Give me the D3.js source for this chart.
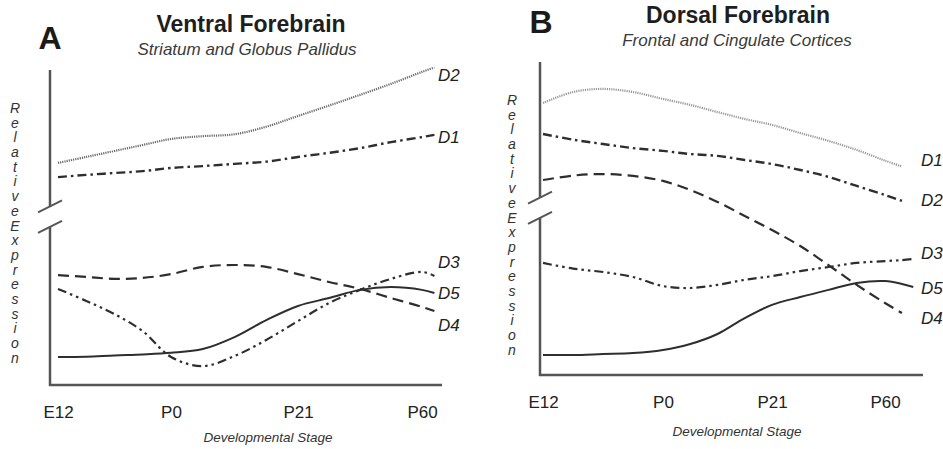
<!DOCTYPE html>
<html>
<head>
<meta charset="utf-8">
<script src="https://cdnjs.cloudflare.com/ajax/libs/d3/7.8.5/d3.min.js"></script>
<style>
  body { margin: 0; background: #fff; }
  svg { display: block; }
  text { font-family: "Liberation Sans", Arial, Helvetica, sans-serif; }
</style>
</head>
<body>
<svg id="chart" width="943" height="449"></svg>
<script>
// developmental stages on the x axis (index 0..3)
var stages = ['E12', 'P0', 'P21', 'P60'];

// sample positions along the stage axis
var gridA = [0, 0.25, 0.5, 0.75, 1, 1.25, 1.5, 1.75, 2, 2.25, 2.5, 2.75, 3, 3.1];
var gridB = [0, 0.25, 0.5, 0.75, 1, 1.25, 1.5, 1.75, 2, 2.25, 2.5, 2.75, 3, 3.15, 3.25];

// relative expression (0-100, axis broken between ~50 and ~57)
// A: ventral forebrain
var ventD2 = [70.5, 72.4, 74.3, 76.2, 78.1, 79.0, 79.6, 82.0, 85.4, 88.7, 92.1, 95.6, 99.4, 100.8];
var ventD1 = [66.0, 66.7, 67.3, 67.9, 68.9, 69.5, 70.2, 70.9, 72.4, 73.7, 75.2, 77.1, 78.7, 79.4];
var ventD3 = [30.5, 26.7, 22.5, 17.1, 8.9, 6.0, 9.2, 14.3, 20.3, 26.0, 30.2, 33.7, 35.9, 34.6];
var ventD4 = [34.9, 34.3, 33.7, 34.0, 35.2, 37.5, 38.1, 37.5, 35.2, 32.7, 30.5, 27.6, 24.8, 23.5];
var ventD5 = [8.9, 9.0, 9.4, 9.7, 10.2, 11.4, 15.2, 20.6, 25.1, 27.6, 30.2, 31.1, 30.2, 29.2];

// B: dorsal forebrain
var dorsD1 = [86.9, 90.4, 91.4, 90.4, 88.2, 86.3, 84.0, 81.8, 79.9, 77.3, 74.8, 71.9, 68.5, 66.6, null];
var dorsD2 = [77.0, 75.2, 73.8, 72.5, 71.6, 70.6, 70.0, 68.7, 67.4, 65.5, 63.3, 60.4, 57.5, 55.6, null];
var dorsD3 = [35.8, 34.0, 32.9, 31.3, 28.4, 27.8, 28.8, 30.4, 31.6, 33.2, 34.5, 35.8, 36.4, 36.7, 37.1];
var dorsD4 = [62.3, 63.7, 64.2, 63.6, 62.0, 59.1, 55.3, 50.8, 46.3, 41.2, 35.1, 28.8, 23.0, 19.8, null];
var dorsD5 = [6.4, 6.4, 6.7, 7.0, 8.0, 9.9, 13.1, 18.2, 22.4, 24.9, 27.2, 29.4, 30.0, 29.1, 28.1];

// where the y axis is broken
var yBreak = [50.2, 56.7];

// label heights (same units as values)
var ventLabels = [['D2', 98.4], ['D1', 78.7], ['D3', 39.0], ['D5', 29.2], ['D4', 19.0]];
var dorsLabels = [['D1', 68.7], ['D2', 55.9], ['D3', 39.0], ['D5', 27.8], ['D4', 18.2]];

var svg = d3.select('#chart');

var dashStyles = {
    dotted:  { dash: '1.2,1',            width: 2.2 },
    dashdot: { dash: '9,4,2.5,4',        width: 2.4 },
    dashdd:  { dash: '9,4,2.5,4,2.5,4',  width: 2.2 },
    dashed:  { dash: '11,6',             width: 2.2 },
    solid:   { dash: null,               width: 2 }
};

var drawPanel = function(cfg) {
    var g = svg.append('g');

    var x = d3.scaleLinear().domain([0, 1, 2, 3]).range(cfg.tickX);
    var y = d3.scaleLinear().domain([0, 100]).range([cfg.bottom, cfg.top]);

    // panel letter, title, subtitle
    g.append('text')
        .attr('x', cfg.letterPos[0]).attr('y', cfg.letterPos[1])
        .attr('text-anchor', 'middle')
        .style('font-size', '32px').style('font-weight', 'bold').style('fill', '#1a1a1a')
        .text(cfg.letter);
    g.append('text')
        .attr('x', cfg.titlePos[0]).attr('y', cfg.titlePos[1])
        .attr('text-anchor', 'middle')
        .style('font-size', '23px').style('font-weight', 'bold').style('fill', '#1e1e1e')
        .text(cfg.title);
    g.append('text')
        .attr('x', cfg.subPos[0]).attr('y', cfg.subPos[1])
        .attr('text-anchor', 'middle')
        .style('font-size', '17px').style('font-style', 'italic').style('fill', '#3a3a3a')
        .text(cfg.subtitle);

    // broken y axis
    var axisCol = '#555';
    g.append('line')
        .attr('x1', cfg.axisX).attr('x2', cfg.axisX)
        .attr('y1', y(100)).attr('y2', y(yBreak[1]))
        .style('stroke', axisCol).style('stroke-width', 2.5);
    g.append('line')
        .attr('x1', cfg.axisX).attr('x2', cfg.axisX)
        .attr('y1', y(yBreak[0])).attr('y2', y(0) + 1)
        .style('stroke', axisCol).style('stroke-width', 2.5);
    yBreak.forEach(function(b) {
        g.append('line')
            .attr('x1', cfg.axisX - 12).attr('y1', y(b) + 6)
            .attr('x2', cfg.axisX + 12).attr('y2', y(b) - 6)
            .style('stroke', axisCol).style('stroke-width', 2);
    });

    // x axis line
    g.append('line')
        .attr('x1', cfg.axisX - 1).attr('x2', cfg.right)
        .attr('y1', y(0)).attr('y2', y(0))
        .style('stroke', axisCol).style('stroke-width', 2.5);

    var xAxis = g.append('g')
        .attr('transform', 'translate(0,' + y(0) + ')')
        .call(d3.axisBottom(x)
            .tickValues([0, 1, 2, 3])
            .tickFormat(function(i) { return stages[i]; })
            .tickSize(0)
            .tickPadding(21));
    xAxis.select('.domain').remove();
    xAxis.selectAll('text')
        .attr('font-family', null)
        .style('font-size', '17px').style('fill', '#222');

    g.append('text')
        .attr('x', cfg.xTitlePos[0]).attr('y', cfg.xTitlePos[1])
        .attr('text-anchor', 'middle')
        .style('font-size', '13.5px').style('font-style', 'italic').style('fill', '#333')
        .text('Developmental Stage');

    // stacked y label
    var yl = g.append('text')
        .attr('x', cfg.yTitlePos[0]).attr('y', cfg.yTitlePos[1])
        .attr('text-anchor', 'middle')
        .style('font-size', '14px').style('font-style', 'italic').style('fill', '#333');
    'RelativeExpression'.split('').forEach(function(ch, i) {
        yl.append('tspan')
            .attr('x', cfg.yTitlePos[0])
            .attr('dy', i === 0 ? '0.35em' : 14.7)
            .text(ch);
    });

    // series
    var line = d3.line()
        .defined(function(d) { return d[1] != null; })
        .x(function(d) { return x(d[0]); })
        .y(function(d) { return y(d[1]); })
        .curve(d3.curveCatmullRom.alpha(0.5));

    cfg.series.forEach(function(s) {
        var st = dashStyles[s.style];
        var pts = cfg.grid.map(function(t, i) { return [t, s.values[i]]; });
        g.append('path')
            .datum(pts)
            .attr('d', line)
            .style('fill', 'none')
            .style('stroke', s.style === 'dotted' ? cfg.dotColor : '#2e2e2e')
            .style('stroke-width', st.width)
            .style('stroke-dasharray', st.dash);
    });

    g.selectAll('text.lbl')
        .data(cfg.labels)
        .enter()
        .append('text')
        .attr('class', 'lbl')
        .attr('x', cfg.labelX)
        .attr('y', function(d) { return y(d[1]); })
        .attr('dy', '0.36em')
        .style('font-size', '17px').style('font-style', 'italic').style('fill', '#222')
        .text(function(d) { return d[0]; });
};

drawPanel({
    letter: 'A', letterPos: [50, 49],
    title: 'Ventral Forebrain', titlePos: [251, 32],
    subtitle: 'Striatum and Globus Pallidus', subPos: [247, 55],
    tickX: [58, 171, 298, 422],
    top: 70, bottom: 385, axisX: 50, right: 442,
    xTitlePos: [268, 442], yTitlePos: [15, 108],
    labelX: 438, dotColor: '#6a6a6a',
    grid: gridA,
    series: [
        { values: ventD2, style: 'dotted' },
        { values: ventD1, style: 'dashdot' },
        { values: ventD3, style: 'dashdd' },
        { values: ventD4, style: 'dashed' },
        { values: ventD5, style: 'solid' }
    ],
    labels: ventLabels
});

drawPanel({
    letter: 'B', letterPos: [541, 33],
    title: 'Dorsal Forebrain', titlePos: [738, 23],
    subtitle: 'Frontal and Cingulate Cortices', subPos: [737, 46],
    tickX: [543, 663, 772, 885],
    top: 62, bottom: 375, axisX: 540, right: 923,
    xTitlePos: [737, 436], yTitlePos: [512, 100],
    labelX: 921, dotColor: '#999',
    grid: gridB,
    series: [
        { values: dorsD1, style: 'dotted' },
        { values: dorsD2, style: 'dashdot' },
        { values: dorsD3, style: 'dashdd' },
        { values: dorsD4, style: 'dashed' },
        { values: dorsD5, style: 'solid' }
    ],
    labels: dorsLabels
});
</script>
</body>
</html>
